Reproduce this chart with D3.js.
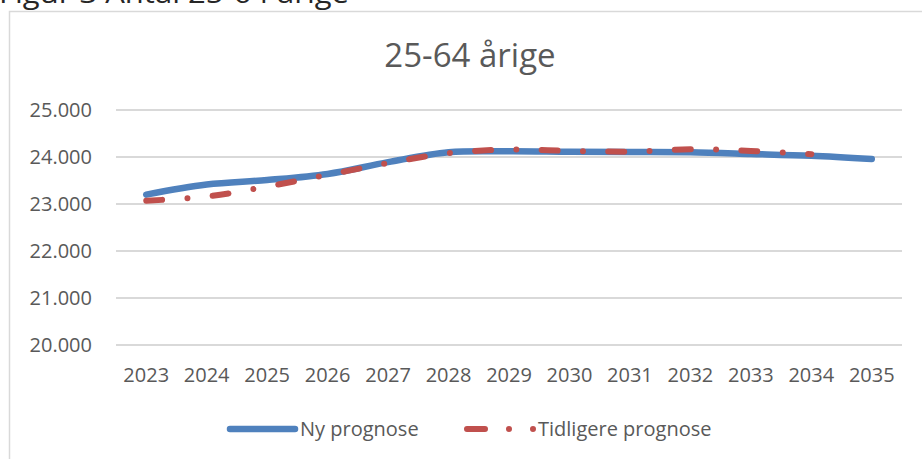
<!DOCTYPE html>
<html>
<head>
<meta charset="utf-8">
<script src="https://cdn.jsdelivr.net/npm/d3@7"></script>
<style>
  body { margin: 0; background: #fff; }
  svg { display: block; font-family: "Open Sans", sans-serif; }
</style>
</head>
<body>
<svg id="chart" width="922" height="459"></svg>
<script>
// chart data
let years = ['2023','2024','2025','2026','2027','2028','2029','2030','2031','2032','2033','2034','2035'];
let nyPrognose = [23200, 23415, 23510, 23640, 23890, 24100, 24120, 24110, 24105, 24100, 24065, 24025, 23955];
let tidligerePrognose = [23070, 23160, 23370, 23620, 23870, 24080, 24160, 24130, 24115, 24165, 24130, 24060];
let yTicks = [20000, 21000, 22000, 23000, 24000, 25000];
let seriesNames = ['Ny prognose', 'Tidligere prognose'];
let chartTitle = '25-64 årige';
let caption = 'Figur 3 Antal 25-64 årige';

let blue = '#4f81bd';
let red = '#c0504d';
let textColor = '#595959';

let svg = d3.select('#chart');

//caption above the frame (cut off at the top)
svg.append('text')
  .attr('x', -1).attr('y', 3)
  .attr('font-size', 28)
  .attr('fill', '#262626')
  .attr('textLength', 350)
  .attr('lengthAdjust', 'spacingAndGlyphs')
  .text(caption);

//chart frame
svg.append('rect')
  .attr('x', 9.5).attr('y', 11.5)
  .attr('width', 1000).attr('height', 600)
  .attr('fill', '#fff')
  .attr('stroke', '#d9d9d9')
  .attr('stroke-width', 1.5);

//title
svg.append('text')
  .attr('x', 470).attr('y', 67)
  .attr('text-anchor', 'middle')
  .attr('font-size', 33)
  .attr('fill', textColor)
  .text(chartTitle);

//scales
let x = d3.scaleBand()
  .domain(years)
  .range([116, 902])
  .padding(0);

let y = d3.scaleLinear()
  .domain([20000, 25000])
  .range([345, 110]);

let locale = d3.formatLocale({decimal: ',', thousands: '.', grouping: [3], currency: ['', '']});
let fmt = locale.format(',');

//gridlines
svg.append('g')
  .selectAll('line')
  .data(yTicks)
  .join('line')
  .attr('x1', 116).attr('x2', 902)
  .attr('y1', d => y(d)).attr('y2', d => y(d))
  .attr('stroke', '#d9d9d9')
  .attr('stroke-width', 2);

//y axis
let yAxis = svg.append('g')
  .attr('transform', 'translate(116,0)')
  .call(d3.axisLeft(y).tickValues(yTicks).tickFormat(fmt).tickSize(0).tickPadding(24));
yAxis.select('.domain').remove();
yAxis.selectAll('text')
  .attr('font-size', 20)
  .attr('font-family', '"Open Sans", sans-serif')
  .attr('fill', textColor);

//x axis
let xAxis = svg.append('g')
  .attr('transform', 'translate(0,345)')
  .call(d3.axisBottom(x).tickSize(0));
xAxis.select('.domain').remove();
xAxis.selectAll('text')
  .attr('y', 37)
  .attr('dy', 0)
  .attr('font-size', 20)
  .attr('font-family', '"Open Sans", sans-serif')
  .attr('fill', textColor);

let cx = (d, i) => x(years[i]) + x.bandwidth() / 2;

let line = d3.line()
  .x(cx)
  .y(d => y(d))
  .curve(d3.curveCatmullRom.alpha(0.5));

//Ny prognose
svg.append('path')
  .datum(nyPrognose)
  .attr('d', line)
  .attr('fill', 'none')
  .attr('stroke', blue)
  .attr('stroke-width', 6.5)
  .attr('stroke-linecap', 'round')
  .attr('stroke-linejoin', 'round');

//Tidligere prognose
svg.append('path')
  .datum(tidligerePrognose)
  .attr('d', line)
  .attr('fill', 'none')
  .attr('stroke', red)
  .attr('stroke-width', 6)
  .attr('stroke-linecap', 'round')
  .attr('stroke-dasharray', '16 25.3 0 25.3');

//legend
let legend = svg.append('g');
legend.append('line')
  .attr('x1', 230).attr('x2', 295)
  .attr('y1', 429).attr('y2', 429)
  .attr('stroke', blue)
  .attr('stroke-width', 6.5)
  .attr('stroke-linecap', 'round');
legend.append('text')
  .attr('x', 300).attr('y', 436)
  .attr('font-size', 20)
  .attr('fill', textColor)
  .text(seriesNames[0]);

legend.append('line')
  .attr('x1', 467).attr('x2', 535)
  .attr('y1', 429).attr('y2', 429)
  .attr('stroke', red)
  .attr('stroke-width', 6)
  .attr('stroke-linecap', 'round')
  .attr('stroke-dasharray', '18 24 0 24 0 100');
legend.append('text')
  .attr('x', 538).attr('y', 436)
  .attr('font-size', 20)
  .attr('fill', textColor)
  .text(seriesNames[1]);
</script>
</body>
</html>
